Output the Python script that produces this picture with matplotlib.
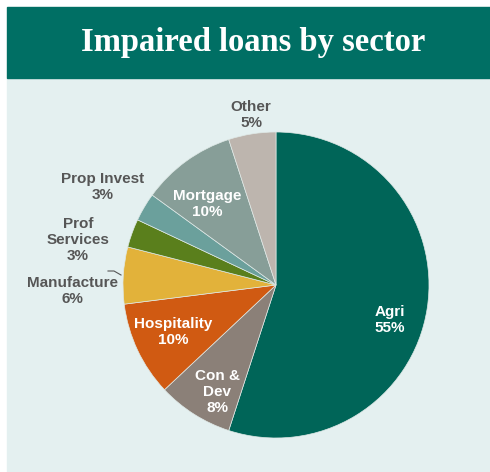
import matplotlib.pyplot as plt
from matplotlib.patches import Rectangle

# sector shares (%), clockwise from 12 o'clock
sectors = ["Agri", "Con &\nDev", "Hospitality", "Manufacture", "Prof\nServices",
           "Prop Invest", "Mortgage", "Other"]
shares = [55, 8, 10, 6, 3, 3, 10, 5]
colors = ["#006558", "#8b8078", "#d05a12", "#e2b23a", "#5a7f1c",
          "#6ba09c", "#879e98", "#bdb5ae"]
inside = [True, True, True, False, False, False, True, False]

W, H = 490, 472
fig = plt.figure(figsize=(W / 100, H / 100), dpi=100)
ax = fig.add_axes([0, 0, 1, 1])

def py(y):
    return H - y

# background panel + banner
ax.add_patch(Rectangle((7, 0), W - 7, py(78), color="#e4f0f0", zorder=0))
ax.add_patch(Rectangle((7, py(78)), W - 7, 71, color="#006f64", zorder=0))
ax.text(253, py(43), "Impaired loans by sector", color="white",
        family="Liberation Serif", fontweight="bold", fontsize=23.5,
        ha="center", va="center")

ax.pie(shares, colors=colors, startangle=90, counterclock=False,
       center=(276, py(285)), radius=153,
       wedgeprops=dict(edgecolor="#dfe9e7", linewidth=0.5))

# label placement (image pixel coords)
label_pos = [(390, 320), (217, 392), (173, 332), (72, 291), (78, 240),
             (103, 187), (207, 204), (251, 115)]
for name, val, (x, y), ins in zip(sectors, shares, label_pos, inside):
    ax.text(x, py(y), f"{name}\n{val}%", ha="center", va="center",
            fontsize=11, fontweight="bold", family="Liberation Sans",
            color="white" if ins else "#565656", linespacing=1.15)

# leader line for Manufacture
ax.plot([108, 114, 121], [py(271), py(271), py(275)], color="#565656", lw=0.8)

ax.set_xlim(0, W)
ax.set_ylim(0, H)
ax.set_aspect("equal")
ax.axis("off")

fig.savefig("out.png", dpi=100)
